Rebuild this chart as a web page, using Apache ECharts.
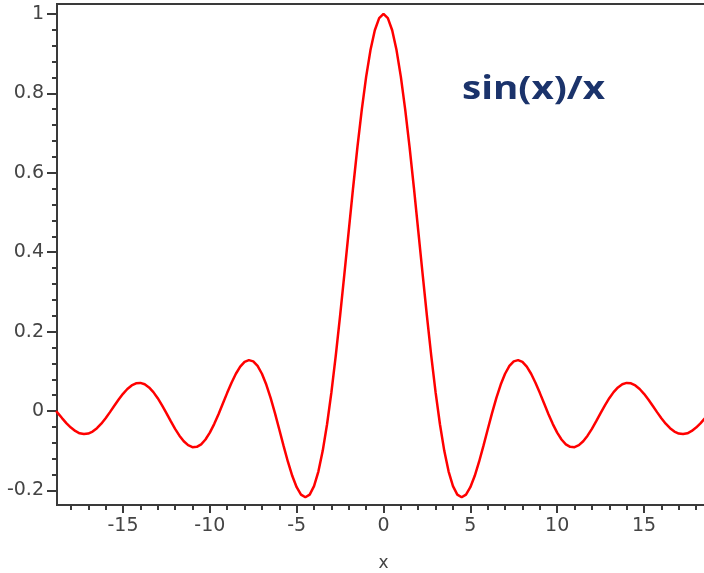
<!DOCTYPE html>
<html>
<head>
<meta charset="utf-8">
<script src="https://cdn.jsdelivr.net/npm/echarts@6/dist/echarts.min.js"></script>
<style>html,body{margin:0;padding:0;background:#fff}#c{width:704px;height:573px}</style>
</head>
<body>
<div id="c"></div>
<script>
var titleText = 'sin(x)/x';
var xName = 'x';
var xValues = [-18.85,-18.75,-18.5,-18.25,-18,-17.75,-17.5,-17.25,-17,-16.75,-16.5,-16.25,-16,-15.75,-15.5,-15.25,-15,-14.75,-14.5,-14.25,-14,-13.75,-13.5,-13.25,-13,-12.75,-12.5,-12.25,-12,-11.75,-11.5,-11.25,-11,-10.75,-10.5,-10.25,-10,-9.75,-9.5,-9.25,-9,-8.75,-8.5,-8.25,-8,-7.75,-7.5,-7.25,-7,-6.75,-6.5,-6.25,-6,-5.75,-5.5,-5.25,-5,-4.75,-4.5,-4.25,-4,-3.75,-3.5,-3.25,-3,-2.75,-2.5,-2.25,-2,-1.75,-1.5,-1.25,-1,-0.75,-0.5,-0.25,0,0.25,0.5,0.75,1,1.25,1.5,1.75,2,2.25,2.5,2.75,3,3.25,3.5,3.75,4,4.25,4.5,4.75,5,5.25,5.5,5.75,6,6.25,6.5,6.75,7,7.25,7.5,7.75,8,8.25,8.5,8.75,9,9.25,9.5,9.75,10,10.25,10.5,10.75,11,11.25,11.5,11.75,12,12.25,12.5,12.75,13,13.25,13.5,13.75,14,14.25,14.5,14.75,15,15.25,15.5,15.75,16,16.25,16.5,16.75,17,17.25,17.5,17.75,18,18.25,18.5,18.75,18.85];
var yValues = [0,-0.0053,-0.0183,-0.0309,-0.0417,-0.0502,-0.0560,-0.0580,-0.0566,-0.0516,-0.0432,-0.0318,-0.0180,-0.0027,0.0133,0.0290,0.0434,0.0555,0.0645,0.0697,0.0708,0.0674,0.0595,0.0477,0.0323,0.0143,-0.0053,-0.0254,-0.0447,-0.0620,-0.0761,-0.0860,-0.0909,-0.0902,-0.0838,-0.0717,-0.0544,-0.0328,-0.0079,0.0188,0.0458,0.0714,0.0939,0.1118,0.1237,0.1283,0.1251,0.1135,0.0939,0.0667,0.0331,-0.0053,-0.0466,-0.0884,-0.1283,-0.1636,-0.1918,-0.2104,-0.2172,-0.2106,-0.1892,-0.1524,-0.1002,-0.0333,0.0470,0.1388,0.2394,0.3458,0.4546,0.5623,0.6650,0.7592,0.8415,0.9089,0.9589,0.9896,1,0.9896,0.9589,0.9089,0.8415,0.7592,0.6650,0.5623,0.4546,0.3458,0.2394,0.1388,0.0470,-0.0333,-0.1002,-0.1524,-0.1892,-0.2106,-0.2172,-0.2104,-0.1918,-0.1636,-0.1283,-0.0884,-0.0466,-0.0053,0.0331,0.0667,0.0939,0.1135,0.1251,0.1283,0.1237,0.1118,0.0939,0.0714,0.0458,0.0188,-0.0079,-0.0328,-0.0544,-0.0717,-0.0838,-0.0902,-0.0909,-0.0860,-0.0761,-0.0620,-0.0447,-0.0254,-0.0053,0.0143,0.0323,0.0477,0.0595,0.0674,0.0708,0.0697,0.0645,0.0555,0.0434,0.0290,0.0133,-0.0027,-0.0180,-0.0318,-0.0432,-0.0516,-0.0566,-0.0580,-0.0560,-0.0502,-0.0417,-0.0309,-0.0183,-0.0053,0];
var xMajorTicks = [-15,-10,-5,0,5,10,15];
var xMinorTicks = [-18,-17,-16,-14,-13,-12,-11,-9,-8,-7,-6,-4,-3,-2,-1,1,2,3,4,6,7,8,9,11,12,13,14,16,17,18];
var yMajorTicks = [-0.2,0,0.2,0.4,0.6,0.8,1];
var yMinorTicks = [-0.16,-0.12,-0.08,-0.04,0.04,0.08,0.12,0.16,0.24,0.28,0.32,0.36,0.44,0.48,0.52,0.56,0.64,0.68,0.72,0.76,0.84,0.88,0.92,0.96];

var X_MIN = -18.8, X_MAX = 18.8, Y_MIN = -0.2366, Y_MAX = 1.025;
var axisColor = '#3a3a3a';
var labelStyle = {color:'#444', fontFamily:'DejaVu Sans', fontSize:19};

var data = xValues.map(function(x,i){return [x, yValues[i]];});
var chart = echarts.init(document.getElementById('c'), null, {renderer:'canvas'});
chart.setOption({
  animation:false,
  backgroundColor:'#fff',
  grid:{left:57, right:-6, top:4, bottom:68, show:true, borderColor:axisColor, borderWidth:2, backgroundColor:'transparent', containLabel:false, outerBoundsMode:'none'},
  xAxis:[{
    type:'value', min:X_MIN, max:X_MAX, position:'bottom',
    name:xName, nameLocation:'middle', nameGap:50,
    nameTextStyle:{color:'#444', fontFamily:'DejaVu Sans', fontSize:17},
    axisLine:{show:true, onZero:false, lineStyle:{color:axisColor, width:2}},
    axisTick:{show:true, customValues:xMajorTicks, length:8, lineStyle:{color:axisColor, width:2}},
    axisLabel:Object.assign({customValues:xMajorTicks, margin:12}, labelStyle),
    splitLine:{show:false}
  },{
    type:'value', min:X_MIN, max:X_MAX, position:'bottom', offset:0,
    axisLine:{show:false, onZero:false},
    axisTick:{show:true, customValues:xMinorTicks, length:5, lineStyle:{color:axisColor, width:2}},
    axisLabel:{show:false},
    splitLine:{show:false}
  }],
  yAxis:[{
    type:'value', min:Y_MIN, max:Y_MAX, position:'left',
    axisLine:{show:true, onZero:false, lineStyle:{color:axisColor, width:2}},
    axisTick:{show:true, customValues:yMajorTicks, length:10, lineStyle:{color:axisColor, width:2}},
    axisLabel:Object.assign({customValues:yMajorTicks, margin:13}, labelStyle),
    splitLine:{show:false}
  },{
    type:'value', min:Y_MIN, max:Y_MAX, position:'left', offset:0,
    axisLine:{show:false, onZero:false},
    axisTick:{show:true, customValues:yMinorTicks, length:5, lineStyle:{color:axisColor, width:2}},
    axisLabel:{show:false},
    splitLine:{show:false}
  }],
  graphic:[{
    type:'text', x:462, y:90, scaleX:1.17, z:100,
    style:{text:titleText, font:'bold 33px "Open Sans"', fill:'#1b336b', textVerticalAlign:'middle'}
  }],
  series:[{
    type:'line', xAxisIndex:0, yAxisIndex:0, data:data, smooth:false, showSymbol:false,
    lineStyle:{color:'#ff0000', width:2.5}, clip:true
  }]
});
</script>
</body>
</html>
